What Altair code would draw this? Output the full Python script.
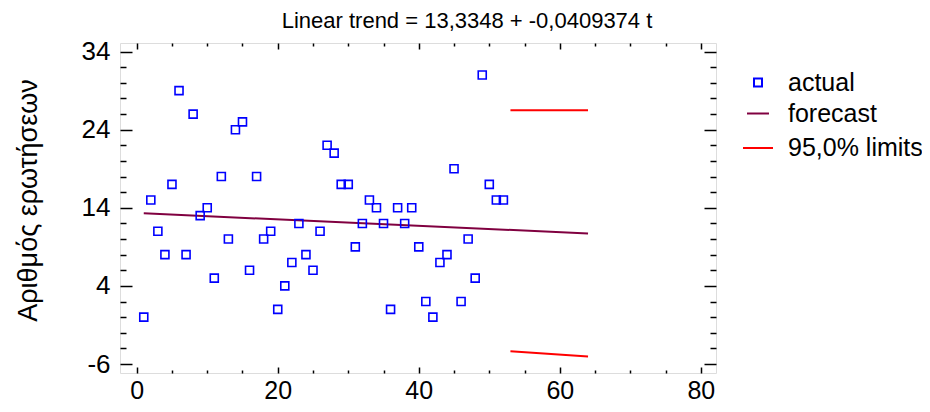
import altair as alt
import pandas as pd

# ---- data ----
t_actual = list(range(1, 53))
actual = [0, 15, 11, 8, 17, 29, 8, 26, 13, 14, 5, 18, 10, 24, 25, 6, 18, 10, 11, 1,
          4, 7, 12, 8, 6, 11, 22, 21, 17, 17, 9, 12, 15, 14, 12, 1, 14, 12, 14, 9,
          2, 0, 7, 8, 19, 2, 10, 5, 31, 17, 15, 15]
forecast_t = [1, 64]
forecast_v = [13.29, 10.71]
upper_t = [53, 64]
upper_v = [26.5, 26.5]
lower_t = [53, 64]
lower_v = [-4.35, -5.05]

series_names = ["actual", "forecast", "95,0% limits"]
series_colors = ["#0000FF", "#800040", "#FF0000"]

x_major = [0, 20, 40, 60, 80]
x_minor = [v for v in range(5, 80, 5) if v % 20 != 0]
y_major = [-6, 4, 14, 24, 34]
y_minor = [v for v in range(-6, 35, 2) if (v + 6) % 10 != 0]

rows = []
for t, v in zip(t_actual, actual):
    rows.append({"t": t, "v": v, "series": "actual", "grp": "actual"})
for t, v in zip(forecast_t, forecast_v):
    rows.append({"t": t, "v": v, "series": "forecast", "grp": "forecast"})
for t, v in zip(upper_t, upper_v):
    rows.append({"t": t, "v": v, "series": "95,0% limits", "grp": "upper"})
for t, v in zip(lower_t, lower_v):
    rows.append({"t": t, "v": v, "series": "95,0% limits", "grp": "lower"})
df = pd.DataFrame(rows)

FONT = "Liberation Sans"
xscale = alt.Scale(domain=[-2.37, 82.15], nice=False, zero=False)
yscale = alt.Scale(domain=[-7.15, 35.1], nice=False, zero=False)

color = alt.Color("series:N", scale=alt.Scale(domain=series_names, range=series_colors),
                  legend=alt.Legend(title=None, orient="none", legendX=622, legendY=27,
                                    labelFontSize=25, labelFont=FONT, labelOffset=14,
                                    rowPadding=5, symbolStrokeWidth=2, labelColor="black"))
shape = alt.Shape("series:N", scale=alt.Scale(domain=series_names, range=["square", "stroke", "stroke"]))
size = alt.Size("series:N", scale=alt.Scale(domain=series_names, range=[64, 900, 900]))


def tick_axis(orient, values, size_px):
    return alt.Axis(orient=orient, values=values, offset=-size_px, tickSize=size_px,
                    labels=False, domain=False, title=None, ticks=True, grid=False,
                    tickColor="black", tickWidth=1.5)


base = alt.Chart(df)

points = base.transform_filter(alt.datum.series == "actual").mark_point(
    filled=False, strokeWidth=1.6, opacity=1
).encode(
    x=alt.X("t:Q", scale=xscale,
            axis=alt.Axis(orient="bottom", values=x_major, ticks=False, tickSize=0, domain=False,
                          grid=False, title=None, labelFontSize=25, labelFont=FONT,
                          labelPadding=5, labelColor="black", labelExpr="'' + datum.value")),
    y=alt.Y("v:Q", scale=yscale,
            axis=alt.Axis(orient="left", values=y_major, ticks=False, tickSize=0, domain=False,
                          grid=False, title="Αριθμός ερωτήσεων", labelFontSize=26, labelFont=FONT,
                          labelPadding=10, labelColor="black", labelExpr="'' + datum.value",
                          titleFontSize=27, titleFont=FONT,
                          titleFontWeight="normal", titleX=-92, titleY=157, titleAngle=-90,
                          titleBaseline="middle", titleAlign="center", titleColor="black")),
    color=color,
    shape=shape,
    size=size,
)

fc = base.transform_filter(alt.datum.series == "forecast").mark_line(strokeWidth=2).encode(
    x=alt.X("t:Q", scale=xscale, axis=tick_axis("bottom", x_major, 6)),
    y=alt.Y("v:Q", scale=yscale, axis=tick_axis("left", y_major, 12)),
    color=alt.Color("series:N"),
)

lim = base.transform_filter(alt.datum.series == "95,0% limits").mark_line(strokeWidth=2).encode(
    x=alt.X("t:Q", scale=xscale, axis=tick_axis("top", x_major, 6)),
    y=alt.Y("v:Q", scale=yscale, axis=tick_axis("right", y_major, 12)),
    color=alt.Color("series:N"),
    detail="grp:N",
)

dummy1 = base.transform_filter(alt.datum.series == "actual").mark_point(opacity=0).encode(
    x=alt.X("t:Q", scale=xscale, axis=tick_axis("bottom", x_minor, 3)),
    y=alt.Y("v:Q", scale=yscale, axis=tick_axis("left", y_minor, 6)),
)
dummy2 = base.transform_filter(alt.datum.series == "actual").mark_point(opacity=0).encode(
    x=alt.X("t:Q", scale=xscale, axis=tick_axis("top", x_minor, 3)),
    y=alt.Y("v:Q", scale=yscale, axis=tick_axis("right", y_minor, 6)),
)

chart = alt.layer(fc, lim, points, dummy1, dummy2).resolve_scale(
    x="shared", y="shared"
).resolve_axis(
    x="independent", y="independent"
).properties(
    width=596, height=330,
    title=alt.TitleParams("Linear trend = 13,3348 + -0,0409374 t", fontSize=22, font=FONT,
                          fontWeight="normal", anchor="middle", dx=49, offset=6, color="black"),
    padding={"left": 112, "top": 35, "right": 206, "bottom": 31},
    autosize=alt.AutoSizeParams(type="none"),
).configure_view(
    stroke="black", strokeWidth=2
).configure(background="white")

chart.save("out.html", embed_options={"renderer": "svg", "actions": False})
